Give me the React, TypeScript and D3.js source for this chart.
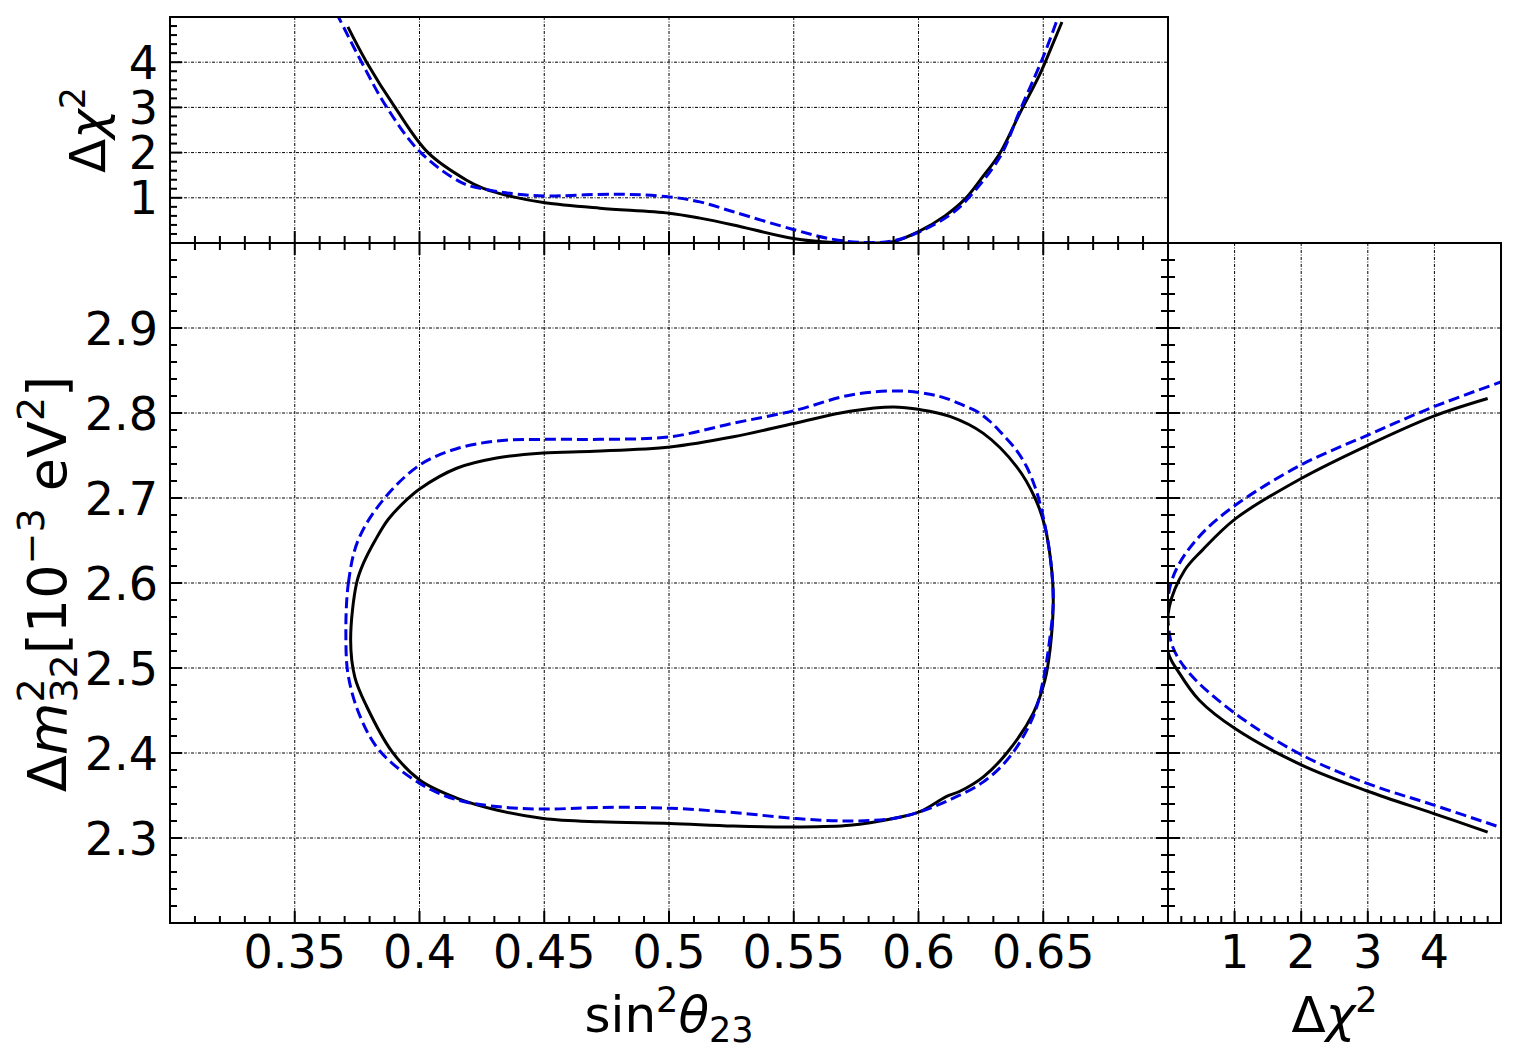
import React from 'react';
import * as d3 from 'd3';

// ---------- tick values / labels ----------
const xMajor = [0.35, 0.4, 0.45, 0.5, 0.55, 0.6, 0.65];
const xMajorLabels = ['0.35', '0.4', '0.45', '0.5', '0.55', '0.6', '0.65'];
const yMajor = [2.3, 2.4, 2.5, 2.6, 2.7, 2.8, 2.9];
const yMajorLabels = ['2.3', '2.4', '2.5', '2.6', '2.7', '2.8', '2.9'];
const chiMajor = [1, 2, 3, 4];
const chiMajorLabels = ['1', '2', '3', '4'];

// ---------- main panel contours: [sin^2 theta23, dm2_32] ----------
const blackContour: [number, number][] = [
  [0.3724, 2.533], [0.3748, 2.600], [0.3775, 2.623], [0.3822, 2.650], [0.3875, 2.675],
  [0.3949, 2.698], [0.4002, 2.711], [0.4149, 2.735], [0.4309, 2.747], [0.4496, 2.753],
  [0.4700, 2.755], [0.5004, 2.760], [0.5258, 2.772], [0.5505, 2.788], [0.5725, 2.802],
  [0.5899, 2.807], [0.6006, 2.804], [0.6126, 2.796], [0.6260, 2.776], [0.6393, 2.737],
  [0.6467, 2.700], [0.6507, 2.666], [0.6534, 2.615], [0.6540, 2.576], [0.6527, 2.521],
  [0.6507, 2.486], [0.6460, 2.447], [0.6354, 2.400], [0.6260, 2.372], [0.6166, 2.355],
  [0.6113, 2.349], [0.6006, 2.331], [0.5899, 2.323], [0.5725, 2.315], [0.5505, 2.313],
  [0.5258, 2.314], [0.5004, 2.317], [0.4723, 2.319], [0.4496, 2.323], [0.4309, 2.333],
  [0.4149, 2.347], [0.4002, 2.368], [0.3889, 2.402], [0.3788, 2.455], [0.3741, 2.489],
];
const blueContour: [number, number][] = [
  [0.3705, 2.533], [0.3715, 2.600], [0.3755, 2.651], [0.3855, 2.698], [0.4002, 2.739],
  [0.4149, 2.758], [0.4309, 2.767], [0.4496, 2.769], [0.4723, 2.769], [0.5004, 2.772],
  [0.5258, 2.788], [0.5505, 2.803], [0.5725, 2.821], [0.5926, 2.826], [0.6046, 2.822],
  [0.6113, 2.817], [0.6180, 2.809], [0.6233, 2.802], [0.6287, 2.790], [0.6340, 2.774],
  [0.6393, 2.756], [0.6433, 2.737], [0.6467, 2.713], [0.6490, 2.690], [0.6515, 2.655],
  [0.6534, 2.615], [0.6540, 2.576], [0.6520, 2.521], [0.6500, 2.486], [0.6460, 2.443],
  [0.6367, 2.396], [0.6260, 2.366], [0.6126, 2.345], [0.6006, 2.331], [0.5899, 2.323],
  [0.5725, 2.320], [0.5505, 2.323], [0.5258, 2.330], [0.5004, 2.335], [0.4723, 2.336],
  [0.4496, 2.334], [0.4309, 2.337], [0.4149, 2.345], [0.4002, 2.364], [0.3842, 2.402],
  [0.3762, 2.443], [0.3715, 2.490],
];

// ---------- top panel: [sin^2 theta23, delta chi^2] ----------
const blackTop: [number, number][] = [
  [0.3713, 4.78], [0.3788, 4.00], [0.3902, 3.00], [0.4034, 2.00], [0.4189, 1.39],
  [0.4256, 1.21], [0.4376, 1.02], [0.4503, 0.89], [0.4723, 0.77], [0.5001, 0.66],
  [0.5124, 0.55], [0.5258, 0.40], [0.5498, 0.10], [0.5659, 0.01], [0.5792, 0.00],
  [0.5898, 0.03], [0.6006, 0.27], [0.6106, 0.60], [0.6186, 0.97], [0.6254, 1.44],
  [0.6327, 1.99], [0.6407, 2.88], [0.6487, 3.74], [0.6535, 4.36], [0.6575, 4.89],
];
const blueTop: [number, number][] = [
  [0.3637, 5.40], [0.3675, 5.00], [0.3768, 4.00], [0.3869, 3.00], [0.4005, 2.00],
  [0.4175, 1.32], [0.4283, 1.17], [0.4389, 1.08], [0.4503, 1.04], [0.4790, 1.08],
  [0.5001, 1.02], [0.5124, 0.91], [0.5258, 0.69], [0.5498, 0.30], [0.5659, 0.08],
  [0.5792, 0.01], [0.5899, 0.05], [0.6006, 0.25], [0.6126, 0.62], [0.6193, 0.95],
  [0.6327, 1.91], [0.6407, 2.94], [0.6500, 4.12], [0.6560, 5.00], [0.6580, 5.30],
];

// ---------- right panel: [delta chi^2, dm2_32] ----------
const blackRight: [number, number][] = [
  [4.80, 2.817], [3.98, 2.796], [3.00, 2.762], [2.00, 2.723], [1.02, 2.676],
  [0.52, 2.639], [0.25, 2.615], [0.02, 2.572], [0.00, 2.519], [0.17, 2.494],
  [0.47, 2.462], [1.00, 2.429], [2.00, 2.386], [3.00, 2.355], [3.98, 2.329],
  [4.80, 2.307],
];
const blueRight: [number, number][] = [
  [5.05, 2.838], [3.98, 2.807], [3.00, 2.774], [2.00, 2.739], [1.02, 2.692],
  [0.52, 2.659], [0.17, 2.623], [0.02, 2.592], [0.00, 2.557], [0.07, 2.525],
  [0.32, 2.494], [1.00, 2.447], [2.00, 2.398], [3.00, 2.364], [3.98, 2.339],
  [5.05, 2.311],
];

const FONT = '"DejaVu Sans", Verdana, sans-serif';
const TICK_FS = 46;
const LABEL_FS = 50;
const YLABEL_FS = 54;
const GRID_DASH = '3,1.5,1,1.5';
const BLUE = '#0000e6';
const BLUE_DASH = '11,5';

export default function App() {
  const W = 1517, H = 1058;
  const L = 170, R = 1168, R2 = 1501, T0 = 17, T1 = 243, B = 923;

  const x = d3.scaleLinear().domain([0.3, 0.7]).range([L, R]);
  const y = d3.scaleLinear().domain([2.2, 3.0]).range([B, T1]);
  const yTop = d3.scaleLinear().domain([0, 5]).range([T1, T0]);
  const xRight = d3.scaleLinear().domain([0, 5]).range([R, R2]);

  const xMinor = d3.range(31, 70).map((i) => i / 100).filter((v) => !xMajor.some((m) => Math.abs(m - v) < 1e-6));
  const yMinor = d3.range(111, 150).map((i) => i / 50).filter((v) => !yMajor.some((m) => Math.abs(m - v) < 1e-6));
  const chiMinor = d3.range(1, 25).map((i) => i / 5).filter((v) => !chiMajor.some((m) => Math.abs(m - v) < 1e-6));

  const contourLine = d3.line<[number, number]>()
    .x((d) => x(d[0])).y((d) => y(d[1]))
    .curve(d3.curveCatmullRomClosed.alpha(0.5));
  const topLine = d3.line<[number, number]>()
    .x((d) => x(d[0])).y((d) => yTop(d[1]))
    .curve(d3.curveCatmullRom.alpha(0.5));
  const rightLine = d3.line<[number, number]>()
    .x((d) => xRight(d[0])).y((d) => y(d[1]))
    .curve(d3.curveCatmullRom.alpha(0.5));

  const MAJ = 12, MIN = 7, TW = 2;
  const tickProps = { stroke: '#000', strokeWidth: TW };
  const gridProps = { stroke: '#000', strokeWidth: 1, strokeDasharray: GRID_DASH, fill: 'none' };

  const supFs = Math.round(YLABEL_FS * 0.7);
  const supW = supFs * 0.636;

  return (
    <svg width={W} height={H} style={{ position: 'absolute', left: 0, top: 0, display: 'block', background: '#fff' }}
      fontFamily={FONT}>
      <defs>
        <clipPath id="clipMain"><rect x={L} y={T1} width={R - L} height={B - T1} /></clipPath>
        <clipPath id="clipTop"><rect x={L} y={T0} width={R - L} height={T1 - T0} /></clipPath>
        <clipPath id="clipRight"><rect x={R} y={T1} width={R2 - R} height={B - T1} /></clipPath>
      </defs>
      <rect x={0} y={0} width={W} height={H} fill="#fff" />

      {/* ---------- grids ---------- */}
      <g>
        {xMajor.map((v) => (
          <line key={'gmx' + v} x1={x(v)} x2={x(v)} y1={T1} y2={B} {...gridProps} />
        ))}
        {yMajor.map((v) => (
          <line key={'gmy' + v} x1={L} x2={R} y1={y(v)} y2={y(v)} {...gridProps} />
        ))}
        {xMajor.map((v) => (
          <line key={'gtx' + v} x1={x(v)} x2={x(v)} y1={T0} y2={T1} {...gridProps} />
        ))}
        {chiMajor.map((v) => (
          <line key={'gty' + v} x1={L} x2={R} y1={yTop(v)} y2={yTop(v)} {...gridProps} />
        ))}
        {chiMajor.map((v) => (
          <line key={'grx' + v} x1={xRight(v)} x2={xRight(v)} y1={T1} y2={B} {...gridProps} />
        ))}
        {yMajor.map((v) => (
          <line key={'gry' + v} x1={R} x2={R2} y1={y(v)} y2={y(v)} {...gridProps} />
        ))}
      </g>

      {/* ---------- curves ---------- */}
      <g clipPath="url(#clipMain)" fill="none">
        <path d={contourLine(blackContour) || ''} stroke="#000" strokeWidth={3} />
        <path d={contourLine(blueContour) || ''} stroke={BLUE} strokeWidth={3} strokeDasharray={BLUE_DASH} />
      </g>
      <g clipPath="url(#clipTop)" fill="none">
        <path d={topLine(blackTop) || ''} stroke="#000" strokeWidth={3} />
        <path d={topLine(blueTop) || ''} stroke={BLUE} strokeWidth={3} strokeDasharray={BLUE_DASH} />
      </g>
      <g clipPath="url(#clipRight)" fill="none">
        <path d={rightLine(blackRight) || ''} stroke="#000" strokeWidth={3} />
        <path d={rightLine(blueRight) || ''} stroke={BLUE} strokeWidth={3} strokeDasharray={BLUE_DASH} />
      </g>

      {/* ---------- spines ---------- */}
      <g fill="none" stroke="#000" strokeWidth={2}>
        <rect x={L} y={T0} width={R - L} height={T1 - T0} />
        <rect x={L} y={T1} width={R - L} height={B - T1} />
        <rect x={R} y={T1} width={R2 - R} height={B - T1} />
      </g>

      {/* ---------- ticks ---------- */}
      <g>
        {xMajor.map((v) => (
          <g key={'tx' + v}>
            <line x1={x(v)} x2={x(v)} y1={B} y2={B - MAJ} {...tickProps} />
            <line x1={x(v)} x2={x(v)} y1={T1 - MAJ} y2={T1 + MAJ} {...tickProps} />
          </g>
        ))}
        {xMinor.map((v) => (
          <g key={'txm' + v}>
            <line x1={x(v)} x2={x(v)} y1={B} y2={B - MIN} {...tickProps} />
            <line x1={x(v)} x2={x(v)} y1={T1 - MIN} y2={T1 + MIN} {...tickProps} />
          </g>
        ))}
        {yMajor.map((v) => (
          <g key={'ty' + v}>
            <line x1={L} x2={L + MAJ} y1={y(v)} y2={y(v)} {...tickProps} />
            <line x1={R - MAJ} x2={R + MAJ} y1={y(v)} y2={y(v)} {...tickProps} />
          </g>
        ))}
        {yMinor.map((v) => (
          <g key={'tym' + v}>
            <line x1={L} x2={L + MIN} y1={y(v)} y2={y(v)} {...tickProps} />
            <line x1={R - MIN} x2={R + MIN} y1={y(v)} y2={y(v)} {...tickProps} />
          </g>
        ))}
        {chiMajor.map((v) => (
          <line key={'tty' + v} x1={L} x2={L + MAJ} y1={yTop(v)} y2={yTop(v)} {...tickProps} />
        ))}
        {chiMinor.map((v) => (
          <line key={'ttym' + v} x1={L} x2={L + MIN} y1={yTop(v)} y2={yTop(v)} {...tickProps} />
        ))}
        {chiMajor.map((v) => (
          <line key={'trx' + v} x1={xRight(v)} x2={xRight(v)} y1={B} y2={B - MAJ} {...tickProps} />
        ))}
        {chiMinor.map((v) => (
          <line key={'trxm' + v} x1={xRight(v)} x2={xRight(v)} y1={B} y2={B - MIN} {...tickProps} />
        ))}
      </g>

      {/* ---------- tick labels ---------- */}
      <g fontSize={TICK_FS} fill="#000">
        {xMajor.map((v, i) => (
          <text key={'lx' + v} x={x(v)} y={968} textAnchor="middle">{xMajorLabels[i]}</text>
        ))}
        {yMajor.map((v, i) => (
          <text key={'ly' + v} x={158} y={y(v) + 16.5} textAnchor="end">{yMajorLabels[i]}</text>
        ))}
        {chiMajor.map((v, i) => (
          <text key={'lty' + v} x={158} y={yTop(v) + 16.5} textAnchor="end">{chiMajorLabels[i]}</text>
        ))}
        {chiMajor.map((v, i) => (
          <text key={'lrx' + v} x={xRight(v)} y={968} textAnchor="middle">{chiMajorLabels[i]}</text>
        ))}
      </g>

      {/* ---------- axis labels ---------- */}
      <g fontSize={LABEL_FS} fill="#000">
        <text x={(L + R) / 2} y={1032} textAnchor="middle">
          <tspan>sin</tspan>
          <tspan fontSize={35} dy={-20}>2</tspan>
          <tspan fontStyle="italic" dy={20}>θ</tspan>
          <tspan fontSize={35} dy={10}>23</tspan>
        </text>
        <text x={(R + R2) / 2} y={1032} textAnchor="middle">
          <tspan>Δ</tspan>
          <tspan fontStyle="italic">χ</tspan>
          <tspan fontSize={35} dy={-20}>2</tspan>
        </text>
        <text transform={`translate(105,${(T0 + T1) / 2}) rotate(-90)`} textAnchor="middle">
          <tspan>Δ</tspan>
          <tspan fontStyle="italic">χ</tspan>
          <tspan fontSize={35} dy={-20}>2</tspan>
        </text>
        <text transform={`translate(66,${(T1 + B) / 2 + 1}) rotate(-90)`} textAnchor="middle" fontSize={YLABEL_FS}>
          <tspan>Δ</tspan>
          <tspan fontStyle="italic">m</tspan>
          <tspan fontSize={supFs} dy={-22}>2</tspan>
          <tspan fontSize={supFs} dx={-supW} dy={33}>32</tspan>
          <tspan dy={-11}>[10</tspan>
          <tspan fontSize={supFs} dy={-22}>−3</tspan>
          <tspan dy={22}> eV</tspan>
          <tspan fontSize={supFs} dy={-22}>2</tspan>
          <tspan dy={22}>]</tspan>
        </text>
      </g>
    </svg>
  );
}
